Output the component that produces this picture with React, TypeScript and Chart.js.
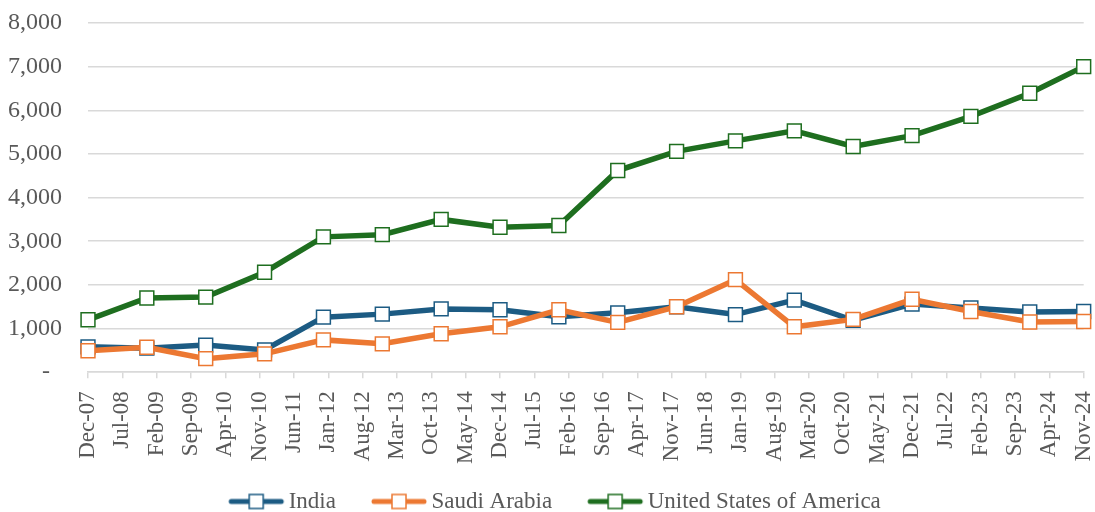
import React, { useEffect, useRef } from 'react';
import { Chart, registerables } from 'chart.js';

Chart.register(...registerables);

const pointDates = [
  'Dec-07', 'Dec-08', 'Dec-09', 'Dec-10', 'Dec-11', 'Dec-12', 'Dec-13', 'Dec-14', 'Dec-15',
  'Dec-16', 'Dec-17', 'Dec-18', 'Dec-19', 'Dec-20', 'Dec-21', 'Dec-22', 'Dec-23', 'Nov-24',
];
const indiaValues = [580, 550, 620, 510, 1260, 1330, 1450, 1430, 1270, 1360, 1500, 1320, 1650, 1190, 1560, 1470, 1380, 1390];
const saudiValues = [490, 570, 310, 420, 740, 650, 880, 1040, 1430, 1140, 1500, 2120, 1040, 1210, 1670, 1390, 1150, 1160];
const usaValues = [1200, 1700, 1720, 2290, 3100, 3150, 3500, 3320, 3360, 4620, 5060, 5300, 5530, 5170, 5420, 5860, 6390, 7000];

const seriesNames = ['India', 'Saudi Arabia', 'United States of America'];
const seriesColors = ['#1C5B83', '#EC7832', '#1E6E1F'];

const xTickLabels = [
  'Dec-07', 'Jul-08', 'Feb-09', 'Sep-09', 'Apr-10', 'Nov-10', 'Jun-11', 'Jan-12', 'Aug-12', 'Mar-13',
  'Oct-13', 'May-14', 'Dec-14', 'Jul-15', 'Feb-16', 'Sep-16', 'Apr-17', 'Nov-17', 'Jun-18', 'Jan-19',
  'Aug-19', 'Mar-20', 'Oct-20', 'May-21', 'Dec-21', 'Jul-22', 'Feb-23', 'Sep-23', 'Apr-24', 'Nov-24',
];
const yMin = 0;
const yMax = 8000;
const yStep = 1000;

const MONTHS = ['Jan', 'Feb', 'Mar', 'Apr', 'May', 'Jun', 'Jul', 'Aug', 'Sep', 'Oct', 'Nov', 'Dec'];
function monthIndex(label: string): number {
  const [m, y] = label.split('-');
  return (2000 + Number(y)) * 12 + MONTHS.indexOf(m);
}
const baseMonth = monthIndex(xTickLabels[0]);
const toX = (label: string) => monthIndex(label) - baseMonth;
const xTickValues = xTickLabels.map(toX);

const FONT = "'Liberation Serif', 'Times New Roman', serif";
const TEXT = '#595959';
const GRID = '#d9d9d9';
const LEGEND_BOX = 74;

function legendImage(color: string): HTMLCanvasElement {
  const W = LEGEND_BOX + 16;
  const H = 18;
  const c = document.createElement('canvas');
  c.width = W;
  c.height = H;
  const ctx = c.getContext('2d')!;
  const x0 = 36;
  const x1 = 86;
  ctx.strokeStyle = color;
  ctx.lineWidth = 5;
  ctx.lineCap = 'round';
  ctx.beginPath();
  ctx.moveTo(x0, H / 2);
  ctx.lineTo(x1, H / 2);
  ctx.stroke();
  const cx = (x0 + x1) / 2;
  ctx.fillStyle = '#ffffff';
  ctx.fillRect(cx - 7, H / 2 - 7, 14, 14);
  ctx.lineWidth = 1.5;
  ctx.strokeRect(cx - 7, H / 2 - 7, 14, 14);
  return c;
}

export default function App() {
  const ref = useRef<HTMLCanvasElement | null>(null);

  useEffect(() => {
    document.body.style.margin = '0';
    const canvas = ref.current;
    if (!canvas) return;
    const xs = pointDates.map(toX);
    const mk = (vals: number[]) => vals.map((v, i) => ({ x: xs[i], y: v }));
    const seriesValues = [indiaValues, saudiValues, usaValues];
    const images = seriesColors.map((c) => legendImage(c));

    // Dataset index 0 is drawn on top, so list in reverse (USA on top)
    const order = [2, 1, 0];
    const datasets = order.map((k) => ({
      label: seriesNames[k],
      data: mk(seriesValues[k]),
      borderColor: seriesColors[k],
      backgroundColor: seriesColors[k],
      borderWidth: 5.5,
      tension: 0,
      pointStyle: 'rect' as const,
      pointRadius: 9.8,
      pointHoverRadius: 9.8,
      pointBackgroundColor: '#ffffff',
      pointBorderColor: seriesColors[k],
      pointBorderWidth: 1.5,
      clip: false as const,
    }));

    const chart = new Chart(canvas, {
      type: 'line',
      data: { datasets },
      options: {
        animation: false,
        responsive: false,
        layout: { padding: { left: 0, right: 11, top: 23, bottom: 0 } },
        plugins: {
          tooltip: { enabled: false },
          legend: {
            position: 'bottom',
            maxHeight: 32,
            labels: {
              usePointStyle: true,
              pointStyleWidth: LEGEND_BOX,
              padding: 10,
              color: TEXT,
              font: { family: FONT, size: 23 },
              generateLabels: (ch: any) => {
                const items = Chart.defaults.plugins.legend.labels.generateLabels(ch);
                const out = items.map((it: any) => {
                  const k = seriesNames.indexOf(it.text);
                  return { ...it, pointStyle: images[k], fontColor: TEXT };
                });
                out.sort((a: any, b: any) => seriesNames.indexOf(a.text) - seriesNames.indexOf(b.text));
                return out;
              },
            },
          },
        },
        scales: {
          x: {
            type: 'linear',
            min: xTickValues[0],
            max: xTickValues[xTickValues.length - 1],
            afterBuildTicks: (scale: any) => {
              scale.ticks = xTickValues.map((v) => ({ value: v }));
            },
            afterFit: (scale: any) => {
              scale.height += 3;
              scale.paddingLeft = 0;
              scale.paddingRight = 0;
            },
            ticks: {
              autoSkip: false,
              maxRotation: 90,
              minRotation: 90,
              padding: 13,
              color: TEXT,
              font: { family: FONT, size: 23 },
              callback: (v: any) => {
                const i = xTickValues.indexOf(Number(v));
                return i >= 0 ? xTickLabels[i] : '';
              },
            },
            grid: {
              drawOnChartArea: false,
              drawTicks: true,
              tickLength: 6,
              color: GRID,
              lineWidth: 1.5,
            },
            border: { display: true, color: GRID, width: 1.5 },
          },
          y: {
            min: yMin,
            max: yMax,
            afterFit: (scale: any) => {
              scale.width = 88;
              scale.paddingTop = 0;
              scale.paddingBottom = 0;
            },
            ticks: {
              stepSize: yStep,
              padding: 26,
              color: TEXT,
              font: { family: FONT, size: 24 },
              callback: (v: any) => (Number(v) === 0 ? '-  ' : Number(v).toLocaleString('en-US')),
            },
            grid: { color: GRID, lineWidth: 1.5, drawTicks: false },
            border: { display: false },
          },
        },
      },
    });
    return () => chart.destroy();
  }, []);

  return (
    <div style={{ width: 1095, height: 512, position: 'relative' }}>
      <canvas ref={ref} width={1095} height={512} style={{ display: 'block' }} />
    </div>
  );
}
